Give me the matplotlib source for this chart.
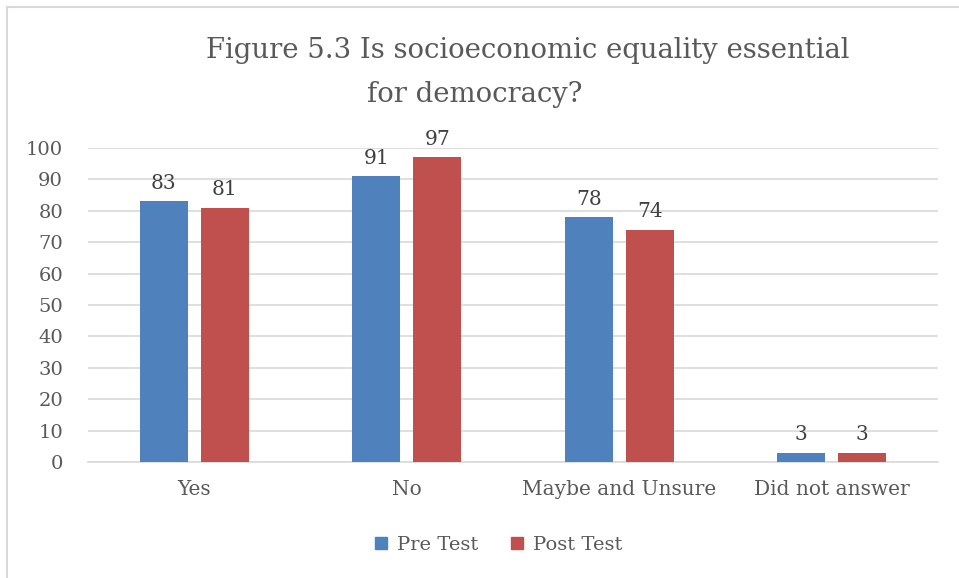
import numpy as np
import matplotlib.pyplot as plt
from matplotlib.lines import Line2D

categories = ["Yes", "No", "Maybe and Unsure", "Did not answer"]
pre_test = [83, 91, 78, 3]
post_test = [81, 97, 74, 3]
series_names = ["Pre Test", "Post Test"]
yticks = [0, 10, 20, 30, 40, 50, 60, 70, 80, 90, 100]
title_lines = ["Figure 5.3 Is socioeconomic equality essential", "for democracy?"]

plt.rcParams['font.family'] = ['DejaVu Serif']
txt = '#595959'
blue = '#4F81BD'
red = '#C0504D'


def main():
    fig = plt.figure(figsize=(9.59, 5.78), dpi=100)
    ax = fig.add_axes([88 / 959, 1 - 462 / 578, (938 - 88) / 959, (462 - 148) / 578])

    x = np.arange(len(categories))
    w = 0.226
    off = 0.1435
    b1 = ax.bar(x - off, pre_test, w, color=blue, label=series_names[0], zorder=3)
    b2 = ax.bar(x + off, post_test, w, color=red, label=series_names[1], zorder=3)

    for bars, vals in ((b1, pre_test), (b2, post_test)):
        for r, v in zip(bars, vals):
            ax.annotate(str(v), (r.get_x() + r.get_width() / 2, v),
                        xytext=(0, 6), textcoords='offset points',
                        ha='center', va='bottom', fontsize=14.5, color='#404040')

    ax.set_xlim(-0.5, len(categories) - 0.5)
    ax.set_ylim(0, 100)
    ax.set_yticks(yticks)
    ax.set_xticks(x)
    ax.set_xticklabels(categories)
    ax.tick_params(axis='y', length=0, pad=18, labelsize=14, labelcolor=txt)
    ax.tick_params(axis='x', length=0, pad=13, labelsize=14.5, labelcolor=txt)
    ax.grid(axis='y', color='#D9D9D9', linewidth=1.2, zorder=0)
    for s in ['top', 'right', 'left']:
        ax.spines[s].set_visible(False)
    ax.spines['bottom'].set_color('#D9D9D9')
    ax.spines['bottom'].set_linewidth(1.2)

    fig.text(528 / 959, 1 - 50 / 578, title_lines[0],
             ha='center', va='center', fontsize=19.8, color=txt)
    fig.text(475 / 959, 1 - 95 / 578, title_lines[1],
             ha='center', va='center', fontsize=19.8, color=txt)

    handles = [Line2D([], [], marker='s', linestyle='none', markersize=9, color=blue),
               Line2D([], [], marker='s', linestyle='none', markersize=9, color=red)]
    fig.legend(handles, series_names, loc='center', bbox_to_anchor=(492 / 959, 1 - 545 / 578),
               ncol=2, frameon=False, fontsize=14, labelcolor=txt, handletextpad=-0.2,
               columnspacing=1.0)

    fig.add_artist(Line2D([7 / 959, 1], [1 - 7 / 578, 1 - 7 / 578], color='#D9D9D9', linewidth=1.5))
    fig.add_artist(Line2D([7 / 959, 7 / 959], [0, 1 - 7 / 578], color='#D9D9D9', linewidth=1.5))

    fig.savefig("out.png", dpi=100)


if __name__ == "__main__":
    main()
